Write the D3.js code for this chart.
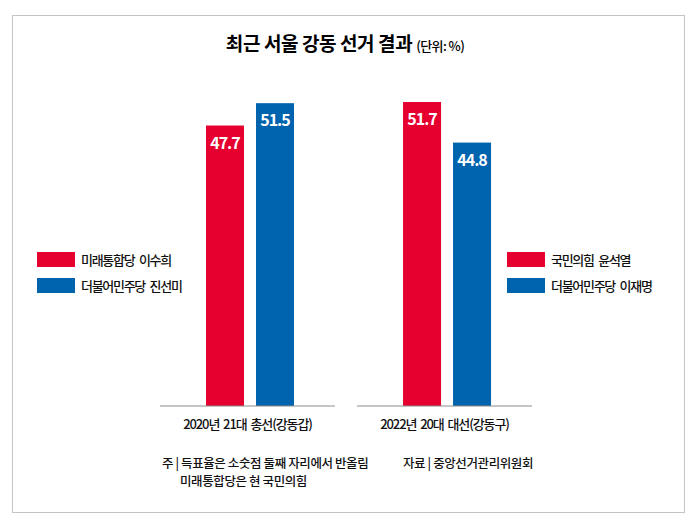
<!DOCTYPE html>
<html>
<head>
<meta charset="utf-8">
<script src="https://cdn.jsdelivr.net/npm/d3@7"></script>
<style>
  body { margin: 0; background: #fff; }
  svg text { font-family: "Noto Sans CJK KR", "Noto Sans", sans-serif; }
</style>
</head>
<body>
<div id="chart"></div>
<script>
const W = 700, H = 531;

const elections = ["2020년 21대 총선(강동갑)", "2022년 20대 대선(강동구)"];
const candidates = [
    ["미래통합당 이수희", "더불어민주당 진선미"],
    ["국민의힘 윤석열", "더불어민주당 이재명"]
];
const shares = [
    [47.7, 51.5],
    [51.7, 44.8]
];
const colors = ["#e5002f", "#0063ae"];

const svg = d3.select("#chart")
    .append("svg")
    .attr("width", W)
    .attr("height", H);

// frame
svg.append("rect")
    .attr("x", 12.5).attr("y", 15.5)
    .attr("width", 672).attr("height", 497)
    .attr("fill", "none")
    .attr("stroke", "#c4c4c4");

// title
const title = svg.append("text")
    .attr("x", 345).attr("y", 51)
    .attr("text-anchor", "middle");
title.append("tspan")
    .attr("font-size", 19).attr("font-weight", 700)
    .attr("letter-spacing", -0.4)
    .text("최근 서울 강동 선거 결과 ");
title.append("tspan")
    .attr("font-size", 13)
    .attr("font-weight", 500)
    .attr("letter-spacing", -0.6)
    .text("(단위: %)");

const x0 = d3.scaleBand().domain(elections).range([160, 532]).paddingInner(0.112);
const x1 = d3.scaleBand().domain([0, 1]).range([46, 134]).paddingInner(0.24);
const y = d3.scaleLinear().domain([0, 51.7]).range([406, 102]);

const groups = svg.selectAll(".grp")
    .data(elections)
    .enter().append("g")
    .attr("class", "grp")
    .attr("transform", d => `translate(${x0(d)},0)`);

groups.selectAll("rect")
    .data((d, i) => shares[i])
    .enter().append("rect")
    .attr("x", (d, j) => x1(j))
    .attr("y", d => y(d))
    .attr("width", x1.bandwidth())
    .attr("height", d => y(0) - y(d))
    .attr("fill", (d, j) => colors[j]);

groups.selectAll(".val")
    .data((d, i) => shares[i])
    .enter().append("text")
    .attr("class", "val")
    .attr("x", (d, j) => x1(j) + x1.bandwidth() / 2)
    .attr("y", d => y(d) + 23)
    .attr("text-anchor", "middle")
    .attr("fill", "#fff")
    .attr("font-size", 16)
    .attr("font-weight", 700)
    .attr("letter-spacing", -1)
    .text(d => d.toFixed(1));

// x axis, one baseline per group
const xAxis = svg.append("g")
    .attr("transform", `translate(0,${y(0)})`)
    .call(d3.axisBottom(x0).tickSize(0).tickPadding(14));
xAxis.select(".domain").remove();
xAxis.selectAll(".tick")
    .append("line")
    .attr("x1", -x0.bandwidth() / 2)
    .attr("x2", x0.bandwidth() / 2)
    .attr("stroke", "#8c8c8c");
xAxis.selectAll("text")
    .attr("font-family", "'Noto Sans CJK KR', sans-serif")
    .attr("font-size", 13)
    .attr("font-weight", 500)
    .attr("letter-spacing", -1.1)
    .attr("word-spacing", 2)
    .attr("fill", "#111");

// legends
const legendX = [37, 507];
candidates.forEach((names, i) => {
    const lg = svg.append("g").attr("transform", `translate(${legendX[i]},252)`);
    names.forEach((n, j) => {
        lg.append("rect")
            .attr("x", 0).attr("y", j * 26)
            .attr("width", 38).attr("height", 15)
            .attr("fill", colors[j]);
        lg.append("text")
            .attr("x", 44).attr("y", j * 26 + 12.5)
            .attr("font-size", 13)
            .attr("font-weight", 500)
            .attr("letter-spacing", -1.3)
            .attr("word-spacing", 3)
            .attr("fill", "#111")
            .text(n);
    });
});

// notes
const notes = svg.append("g")
    .attr("font-size", 12.5)
    .attr("font-weight", 500)
    .attr("letter-spacing", -0.4)
    .attr("fill", "#111");
notes.append("text").attr("x", 162).attr("y", 468).text("주 | 득표율은 소숫점 둘째 자리에서 반올림");
notes.append("text").attr("x", 180).attr("y", 486).text("미래통합당은 현 국민의힘");
notes.append("text").attr("x", 403).attr("y", 468).text("자료 | 중앙선거관리위원회");
</script>
</body>
</html>
